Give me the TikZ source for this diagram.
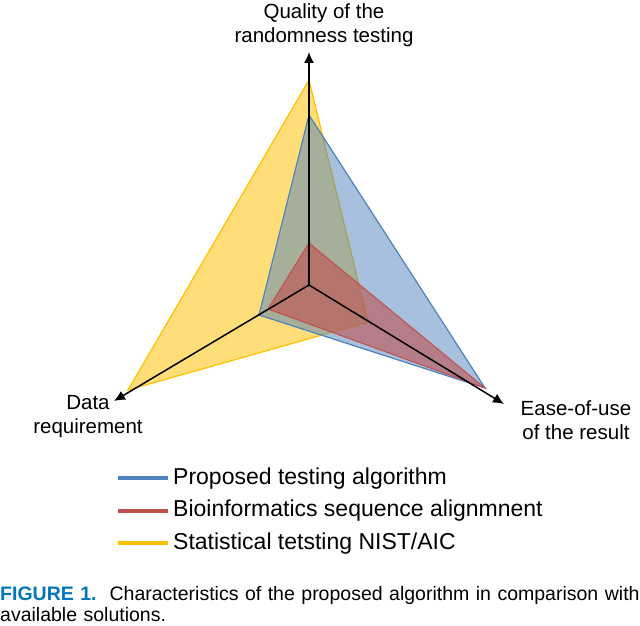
\documentclass[tikz,border=0pt]{standalone}
\usepackage{fontspec}
\setmainfont{Liberation Sans}
\usetikzlibrary{arrows.meta}
\begin{document}
\begin{tikzpicture}[x=1pt,y=-1pt,
  ax/.style={line width=1.5pt,-{Latex[length=11pt,width=10pt]}},
  lbl/.style={font=\fontsize{20.5}{24}\selectfont,align=center},
  leg/.style={font=\fontsize{23}{26}\selectfont,anchor=west,inner sep=0pt},
  legline/.style={line width=4pt}]
\useasboundingbox (0,0) rectangle (640,626);
\definecolor{cyel}{RGB}{255,192,0}
\definecolor{cblue}{RGB}{79,129,189}
\definecolor{cred}{RGB}{192,80,77}
\coordinate (c) at (309,285);
\fill[cyel!70!white,fill opacity=0.75] (309,80) -- (128,390) -- (368,322) -- cycle;
\draw[cyel,line width=1.2pt] (309,80) -- (128,390) -- (368,322) -- cycle;
\fill[cblue,fill opacity=0.5] (309,115) -- (259,315) -- (485,388) -- cycle;
\draw[cblue,line width=1.2pt] (309,115) -- (259,315) -- (485,388) -- cycle;
\fill[cred,fill opacity=0.6] (309,243) -- (268,309) -- (485,388) -- cycle;
\draw[cred,line width=1pt] (309,243) -- (268,309) -- (485,388) -- cycle;
\coordinate (t) at (309,52);
\coordinate (l) at (114,401);
\coordinate (r) at (504,404);
\draw[ax] (c) -- (t);
\draw[ax] (c) -- (l);
\draw[ax] (c) -- (r);
\node[lbl] (qt) at (324,25) {Quality of the\\randomness testing};
\node[lbl] (dt) at (88,417) {Data\\requirement};
\node[lbl] (et) at (576,420) {Ease-of-use\\of the result};
\coordinate (a1) at (118,478); \coordinate (b1) at (168,478);
\coordinate (a2) at (118,511); \coordinate (b2) at (168,511);
\coordinate (a3) at (118,543); \coordinate (b3) at (168,543);
\draw[legline,cblue] (a1) -- (b1);
\draw[legline,cred] (a2) -- (b2);
\draw[legline,cyel] (a3) -- (b3);
\node[leg] (t1) at (173,479) {Proposed testing algorithm};
\node[leg] (t2) at (173,511) {Bioinformatics sequence alignmnent};
\node[leg] (t3) at (173,544) {Statistical tetsting NIST/AIC};
\node[anchor=north west,align=left,font=\fontsize{19.5}{21}\selectfont,text width=640pt,inner sep=0pt] (cap) at (0,586)
 {\textcolor[RGB]{0,118,188}{\textbf{FIGURE 1.}}\ \ Characteristics of the proposed algorithm in comparison with\\available solutions.};
\end{tikzpicture}
\end{document}
